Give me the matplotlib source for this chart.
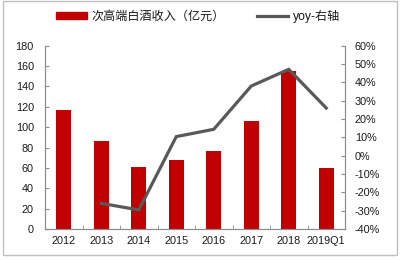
import numpy as np
import matplotlib
matplotlib.use("Agg")
import matplotlib.pyplot as plt
from matplotlib.patches import Rectangle
from matplotlib.lines import Line2D

plt.rcParams['font.family'] = ['Liberation Sans', 'Noto Sans CJK SC', 'DejaVu Sans']

years = ["2012", "2013", "2014", "2015", "2016", "2017", "2018", "2019Q1"]
revenue = [116.7, 86.6, 60.8, 67.3, 76.8, 105.6, 155.6, 60.1]
yoy_years = ["2013", "2014", "2015", "2016", "2017", "2018", "2019Q1"]
yoy = [-26.0, -29.6, 10.4, 14.4, 38.0, 47.1, 26.0]

bar_label = "次高端白酒收入（亿元）"
line_label = "yoy-右轴"

red = "#c00000"
grey_line = "#595959"
spine_col = "#8c8c8c"
text_col = "#1a1a1a"

fig = plt.figure(figsize=(4, 2.6), dpi=100)
fig.patches.append(Rectangle((3 / 400, 5 / 260), 394 / 400, 254 / 260, transform=fig.transFigure,
                             fill=False, edgecolor="#bfbfbf", linewidth=1))
ax = fig.add_axes([0.1125, 0.1192, 0.75, 0.705])
ax2 = ax.twinx()

x = np.arange(len(years))
ax.bar(x, revenue, width=0.4, color=red, zorder=2)
xi = [years.index(y) for y in yoy_years]
ax2.plot(xi, yoy, color=grey_line, linewidth=2.3, solid_joinstyle="miter", zorder=3)

ax.set_xlim(-0.5, len(years) - 0.5)
ax.set_ylim(0, 180)
ax.set_yticks(np.arange(0, 181, 20))
ax2.set_ylim(-40, 60)
ax2.set_yticks(np.arange(-40, 61, 10))
ax2.set_yticklabels(["%d%%" % v for v in np.arange(-40, 61, 10)])

ax.set_xticks(x)
ax.set_xticklabels(years)
ax.set_xticks(np.arange(-0.5, len(years), 1), minor=True)
ax.tick_params(axis="x", which="major", length=0, pad=5, labelsize=7.8, colors=text_col)
ax.tick_params(axis="x", which="minor", direction="in", length=3, color=spine_col)
ax.tick_params(axis="y", direction="in", length=3, color=spine_col, pad=8, labelsize=7.8, labelcolor=text_col)
ax2.tick_params(axis="y", direction="in", length=3, color=spine_col, pad=7, labelsize=7.8, labelcolor=text_col)

for a in (ax, ax2):
    a.spines["top"].set_visible(False)
    for s in ("left", "right", "bottom"):
        a.spines[s].set_color(spine_col)
        a.spines[s].set_linewidth(0.8)

ax2.patch.set_visible(False)

handles = [Rectangle((0, 0), 1, 1, color=red),
           Line2D([0], [0], color=grey_line, linewidth=2.3)]
fig.legend(handles, [bar_label, line_label], loc="center", bbox_to_anchor=(0.495, 0.937),
           ncol=2, frameon=False, fontsize=8.7, handlelength=2.6, handleheight=0.5,
           columnspacing=2.6, handletextpad=0.4, labelcolor=text_col)

fig.savefig("out.png", dpi=100)
